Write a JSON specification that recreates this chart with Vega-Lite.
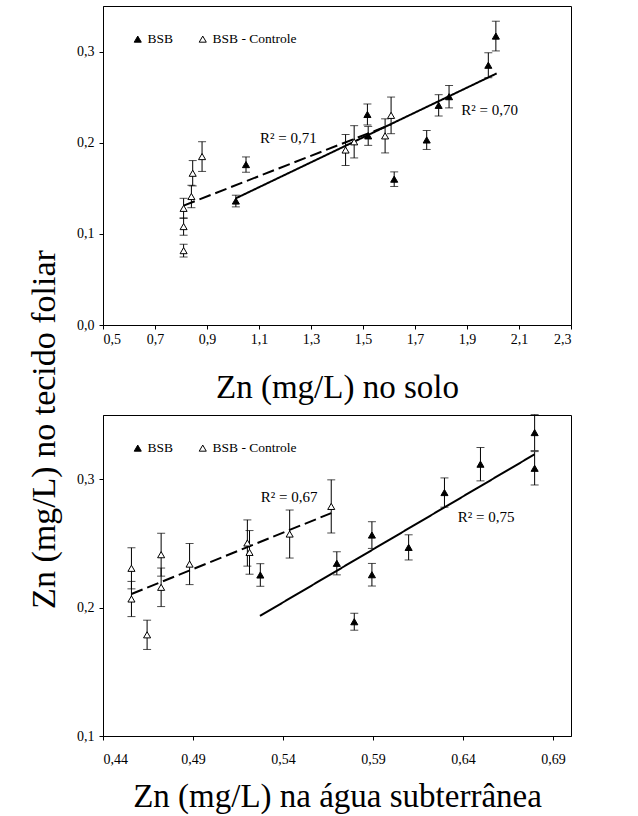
{
  "$schema": "https://vega.github.io/schema/vega-lite/v6.json",
  "background": "white",
  "padding": {"left": 27, "top": 5, "right": 5, "bottom": 5},
  "config": {
    "locale": {"number": {"decimal": ",", "thousands": ".", "grouping": [3], "currency": ["", ""]}},
    "font": "serif",
    "view": {"stroke": "black", "strokeWidth": 1},
    "axis": {"grid": false, "domainColor": "black", "tickColor": "black", "labelColor": "black", "titleColor": "black", "labelFont": "serif", "titleFont": "serif", "labelFontSize": 14, "titleFontSize": 33, "titleFontWeight": "normal", "tickSize": 4, "labelPadding": 3},
    "legend": {"title": null, "symbolType": "triangle-up", "symbolStrokeColor": "black", "symbolStrokeWidth": 1, "symbolSize": 50, "labelFont": "serif", "labelFontSize": 13.5, "labelColor": "black", "columnPadding": 22, "labelOffset": 3}
  },
  "title": {"text": "Zn (mg/L) no tecido foliar", "orient": "left", "anchor": "middle", "fontSize": 34, "font": "serif", "fontWeight": "normal", "color": "black", "offset": 14, "dx": -20},
  "spacing": 8,
  "datasets": {
    "solo_pts": [
      {"x": 1.011, "y": 0.136, "err": 0.0064, "serie": "BSB"},
      {"x": 1.050, "y": 0.176, "err": 0.0084, "serie": "BSB"},
      {"x": 1.517, "y": 0.231, "err": 0.0115, "serie": "BSB"},
      {"x": 1.520, "y": 0.2075, "err": 0.0104, "serie": "BSB"},
      {"x": 1.620, "y": 0.160, "err": 0.0080, "serie": "BSB"},
      {"x": 1.745, "y": 0.203, "err": 0.0104, "serie": "BSB"},
      {"x": 1.791, "y": 0.241, "err": 0.0117, "serie": "BSB"},
      {"x": 1.831, "y": 0.2505, "err": 0.0123, "serie": "BSB"},
      {"x": 1.982, "y": 0.285, "err": 0.0137, "serie": "BSB"},
      {"x": 2.011, "y": 0.317, "err": 0.0163, "serie": "BSB"},
      {"x": 0.810, "y": 0.0816, "err": 0.007, "serie": "BSB - Controle"},
      {"x": 0.810, "y": 0.108, "err": 0.0095, "serie": "BSB - Controle"},
      {"x": 0.810, "y": 0.128, "err": 0.011, "serie": "BSB - Controle"},
      {"x": 0.840, "y": 0.141, "err": 0.0123, "serie": "BSB - Controle"},
      {"x": 0.845, "y": 0.1665, "err": 0.0139, "serie": "BSB - Controle"},
      {"x": 0.881, "y": 0.1848, "err": 0.0163, "serie": "BSB - Controle"},
      {"x": 1.433, "y": 0.192, "err": 0.017, "serie": "BSB - Controle"},
      {"x": 1.466, "y": 0.201, "err": 0.0177, "serie": "BSB - Controle"},
      {"x": 1.585, "y": 0.2075, "err": 0.0187, "serie": "BSB - Controle"},
      {"x": 1.608, "y": 0.230, "err": 0.0201, "serie": "BSB - Controle"}
    ],
    "solo_lines": [
      {"x": 1.011, "y": 0.139, "tipo": "solida"},
      {"x": 2.014, "y": 0.276, "tipo": "solida"},
      {"x": 0.810, "y": 0.131, "tipo": "tracejada"},
      {"x": 1.608, "y": 0.220, "tipo": "tracejada"}
    ],
    "solo_r2": [
      {"x": 1.213, "y": 0.205, "label": "R² = 0,71"},
      {"x": 1.987, "y": 0.236, "label": "R² = 0,70"}
    ],
    "agua_pts": [
      {"x": 0.5274, "y": 0.2254, "err": 0.0088, "serie": "BSB"},
      {"x": 0.5699, "y": 0.2345, "err": 0.009, "serie": "BSB"},
      {"x": 0.5796, "y": 0.189, "err": 0.0066, "serie": "BSB"},
      {"x": 0.5894, "y": 0.2565, "err": 0.0104, "serie": "BSB"},
      {"x": 0.5894, "y": 0.2256, "err": 0.0088, "serie": "BSB"},
      {"x": 0.6098, "y": 0.2469, "err": 0.0098, "serie": "BSB"},
      {"x": 0.6297, "y": 0.2896, "err": 0.0114, "serie": "BSB"},
      {"x": 0.6497, "y": 0.3117, "err": 0.013, "serie": "BSB"},
      {"x": 0.6798, "y": 0.3363, "err": 0.014, "serie": "BSB"},
      {"x": 0.6798, "y": 0.3085, "err": 0.013, "serie": "BSB"},
      {"x": 0.4558, "y": 0.2306, "err": 0.016, "serie": "BSB - Controle"},
      {"x": 0.4558, "y": 0.2067, "err": 0.0137, "serie": "BSB - Controle"},
      {"x": 0.4645, "y": 0.1788, "err": 0.0114, "serie": "BSB - Controle"},
      {"x": 0.4723, "y": 0.2412, "err": 0.0167, "serie": "BSB - Controle"},
      {"x": 0.4723, "y": 0.2158, "err": 0.015, "serie": "BSB - Controle"},
      {"x": 0.4881, "y": 0.2339, "err": 0.016, "serie": "BSB - Controle"},
      {"x": 0.5202, "y": 0.2503, "err": 0.018, "serie": "BSB - Controle"},
      {"x": 0.5214, "y": 0.243, "err": 0.017, "serie": "BSB - Controle"},
      {"x": 0.5437, "y": 0.2573, "err": 0.0187, "serie": "BSB - Controle"},
      {"x": 0.5668, "y": 0.2788, "err": 0.0207, "serie": "BSB - Controle"}
    ],
    "agua_lines": [
      {"x": 0.5272, "y": 0.1935, "tipo": "solida"},
      {"x": 0.6798, "y": 0.3194, "tipo": "solida"},
      {"x": 0.4558, "y": 0.2106, "tipo": "tracejada"},
      {"x": 0.5668, "y": 0.2736, "tipo": "tracejada"}
    ],
    "agua_r2": [
      {"x": 0.5434, "y": 0.2858, "label": "R² = 0,67"},
      {"x": 0.6529, "y": 0.2702, "label": "R² = 0,75"}
    ]
  },
  "vconcat": [
    {
      "width": 468,
      "height": 319,
      "encoding": {
        "x": {"field": "x", "type": "quantitative", "title": "Zn (mg/L) no solo", "scale": {"domain": [0.5, 2.3], "nice": false, "zero": false}, "axis": {"values": [0.5, 0.7, 0.9, 1.1, 1.3, 1.5, 1.7, 1.9, 2.1, 2.3], "format": ".1f", "titlePadding": 25}},
        "y": {"field": "y", "type": "quantitative", "title": null, "scale": {"domain": [0, 0.35], "nice": false, "zero": false}, "axis": {"values": [0, 0.1, 0.2, 0.3], "format": ".1f", "labelPadding": 5}}
      },
      "layer": [
        {"data": {"name": "solo_pts"}, "mark": {"type": "errorbar", "color": "black", "ticks": {"size": 8}, "thickness": 1}, "encoding": {"yError": {"field": "err"}}},
        {"data": {"name": "solo_lines"}, "mark": {"type": "line", "color": "black", "strokeWidth": 2}, "encoding": {"detail": {"field": "tipo"}, "strokeDash": {"field": "tipo", "type": "nominal", "scale": {"domain": ["solida", "tracejada"], "range": [[1, 0], [12, 5]]}, "legend": null}}},
        {"data": {"name": "solo_pts"}, "mark": {"type": "point", "shape": "triangle-up", "filled": true, "size": 50, "stroke": "black", "strokeWidth": 1, "opacity": 1}, "encoding": {"fill": {"field": "serie", "type": "nominal", "title": null, "scale": {"domain": ["BSB", "BSB - Controle"], "range": ["black", "white"]}, "legend": {"orient": "none", "legendX": 28, "legendY": 26, "direction": "horizontal"}}}},
        {"data": {"name": "solo_r2"}, "mark": {"type": "text", "fontSize": 15, "font": "serif", "color": "black"}, "encoding": {"text": {"field": "label"}}}
      ]
    },
    {
      "width": 468,
      "height": 321,
      "encoding": {
        "x": {"field": "x", "type": "quantitative", "title": "Zn (mg/L) na água subterrânea", "scale": {"domain": [0.44, 0.70], "nice": false, "zero": false}, "axis": {"values": [0.44, 0.49, 0.54, 0.59, 0.64, 0.69], "format": ".2f", "labelPadding": 12, "titlePadding": 14}},
        "y": {"field": "y", "type": "quantitative", "title": null, "scale": {"domain": [0.1, 0.35], "nice": false, "zero": false}, "axis": {"values": [0.1, 0.2, 0.3], "format": ".1f", "labelPadding": 5}}
      },
      "layer": [
        {"data": {"name": "agua_pts"}, "mark": {"type": "errorbar", "color": "black", "ticks": {"size": 8}, "thickness": 1}, "encoding": {"yError": {"field": "err"}}},
        {"data": {"name": "agua_lines"}, "mark": {"type": "line", "color": "black", "strokeWidth": 2}, "encoding": {"detail": {"field": "tipo"}, "strokeDash": {"field": "tipo", "type": "nominal", "scale": {"domain": ["solida", "tracejada"], "range": [[1, 0], [12, 5]]}, "legend": null}}},
        {"data": {"name": "agua_pts"}, "mark": {"type": "point", "shape": "triangle-up", "filled": true, "size": 50, "stroke": "black", "strokeWidth": 1, "opacity": 1}, "encoding": {"fill": {"field": "serie", "type": "nominal", "title": null, "scale": {"domain": ["BSB", "BSB - Controle"], "range": ["black", "white"]}, "legend": {"orient": "none", "legendX": 28, "legendY": 26, "direction": "horizontal"}}}},
        {"data": {"name": "agua_r2"}, "mark": {"type": "text", "fontSize": 15, "font": "serif", "color": "black"}, "encoding": {"text": {"field": "label"}}}
      ]
    }
  ],
  "resolve": {"scale": {"fill": "independent", "strokeDash": "independent"}, "legend": {"fill": "independent", "strokeDash": "independent"}}
}
